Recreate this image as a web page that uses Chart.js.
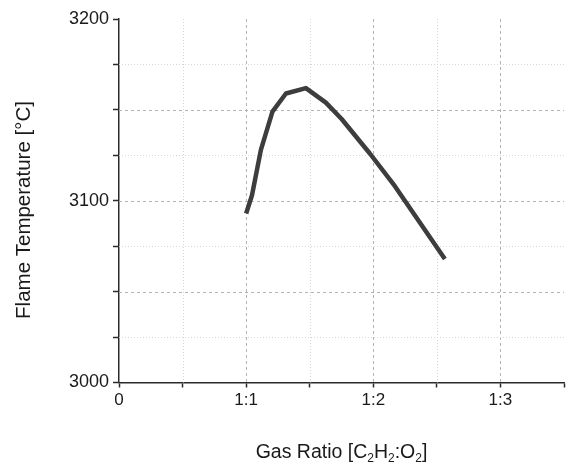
<!DOCTYPE html>
<html>
<head>
<meta charset="utf-8">
<script src="https://cdn.jsdelivr.net/npm/chart.js@4.4.1/dist/chart.umd.min.js"></script>
<style>
  html, body { margin: 0; padding: 0; background: #fff; }
  #wrap { width: 568px; height: 464px; }
</style>
</head>
<body>
<div id="wrap"><canvas id="chart" width="568" height="464"></canvas></div>
<script>
// Gas ratio (x, 1 = 1:1) vs flame temperature
const gasRatio = [1.0, 1.046, 1.116, 1.207, 1.313, 1.47, 1.627, 1.751, 1.973, 2.17, 2.563];
const flameTemp = [3093, 3103, 3128, 3149, 3159, 3162, 3154, 3145, 3126, 3108, 3068];

const xTickValues = [0, 1, 2, 3];
const xTickLabels = ['0', '1:1', '1:2', '1:3'];
const yTickLabels = [3000, 3100, 3200];

const FONT = '"Liberation Sans", Arial, sans-serif';
const AXIS_COLOR = '#2b2b2b';

// Dashed grid on major steps, dotted on the minor ones
const gridPlugin = {
    id: 'gridLines',
    beforeDatasetsDraw(chart) {
        const { ctx, chartArea: a, scales: { x, y } } = chart;
        ctx.save();
        ctx.lineWidth = 1;
        for (let v = 0.5; v < 3.5; v += 0.5) {
            const px = Math.round(x.getPixelForValue(v)) + 0.5;
            const major = Number.isInteger(v);
            ctx.strokeStyle = major ? '#b4b4b4' : '#d6d6d6';
            ctx.setLineDash(major ? [3, 3] : [1, 2]);
            ctx.beginPath();
            ctx.moveTo(px, a.top);
            ctx.lineTo(px, a.bottom);
            ctx.stroke();
        }
        for (let v = 3025; v < 3200; v += 25) {
            const py = Math.round(y.getPixelForValue(v)) + 0.5;
            const major = v % 50 === 0;
            ctx.strokeStyle = major ? '#b4b4b4' : '#d6d6d6';
            ctx.setLineDash(major ? [3, 3] : [1, 2]);
            ctx.beginPath();
            ctx.moveTo(a.left, py);
            ctx.lineTo(a.right, py);
            ctx.stroke();
        }
        ctx.restore();
    }
};

// Axis titles, x title needs subscripts
const titlePlugin = {
    id: 'axisTitles',
    afterDraw(chart) {
        const { ctx, chartArea: a } = chart;
        ctx.save();
        ctx.fillStyle = '#1a1a1a';
        ctx.textBaseline = 'alphabetic';

        const parts = [
            ['Gas Ratio [C', false], ['2', true], ['H', false], ['2', true],
            [':O', false], ['2', true], [']', false]
        ];
        const big = '19.5px ' + FONT, small = '12px ' + FONT;
        let total = 0;
        parts.forEach(([t, sub]) => { ctx.font = sub ? small : big; total += ctx.measureText(t).width; });
        let cx = (a.left + a.right) / 2 - total / 2;
        const base = 458;
        parts.forEach(([t, sub]) => {
            ctx.font = sub ? small : big;
            ctx.fillText(t, cx, sub ? base + 4 : base);
            cx += ctx.measureText(t).width;
        });

        ctx.translate(24, 210);
        ctx.rotate(-Math.PI / 2);
        ctx.font = '20.5px ' + FONT;
        ctx.textAlign = 'center';
        ctx.textBaseline = 'middle';
        ctx.fillText('Flame Temperature [°C]', 0, 0);
        ctx.restore();
    }
};

new Chart(document.getElementById('chart'), {
    type: 'line',
    data: {
        datasets: [{
            data: gasRatio.map((g, i) => ({ x: g, y: flameTemp[i] })),
            borderColor: '#3d3d3d',
            borderWidth: 4.5,
            pointRadius: 0,
            tension: 0,
            fill: false,
            borderCapStyle: 'butt',
            borderJoinStyle: 'round'
        }]
    },
    options: {
        responsive: false,
        animation: false,
        layout: { padding: { top: 19, right: 4, left: 0, bottom: 0 } },
        plugins: { legend: { display: false }, tooltip: { enabled: false } },
        scales: {
            x: {
                type: 'linear',
                min: 0,
                max: 3.5,
                afterFit: s => { s.height = 81.5; },
                border: { color: AXIS_COLOR, width: 1.5 },
                grid: { drawOnChartArea: false, drawTicks: true, tickLength: 5, tickColor: AXIS_COLOR, tickWidth: 1.5 },
                ticks: {
                    stepSize: 0.5,
                    autoSkip: false,
                    maxRotation: 0,
                    padding: 3,
                    color: '#1a1a1a',
                    font: { family: FONT, size: 17 },
                    callback: v => {
                        const i = xTickValues.indexOf(v);
                        return i >= 0 ? xTickLabels[i] : '';
                    }
                }
            },
            y: {
                type: 'linear',
                min: 3000,
                max: 3200,
                afterFit: s => { s.width = 119; },
                border: { color: AXIS_COLOR, width: 1.5 },
                grid: { drawOnChartArea: false, drawTicks: true, tickLength: 6, tickColor: AXIS_COLOR, tickWidth: 1.5 },
                ticks: {
                    stepSize: 25,
                    autoSkip: false,
                    padding: 4,
                    color: '#1a1a1a',
                    font: { family: FONT, size: 18 },
                    callback: v => yTickLabels.includes(v) ? String(v) : ''
                }
            }
        }
    },
    plugins: [gridPlugin, titlePlugin]
});
</script>
</body>
</html>
